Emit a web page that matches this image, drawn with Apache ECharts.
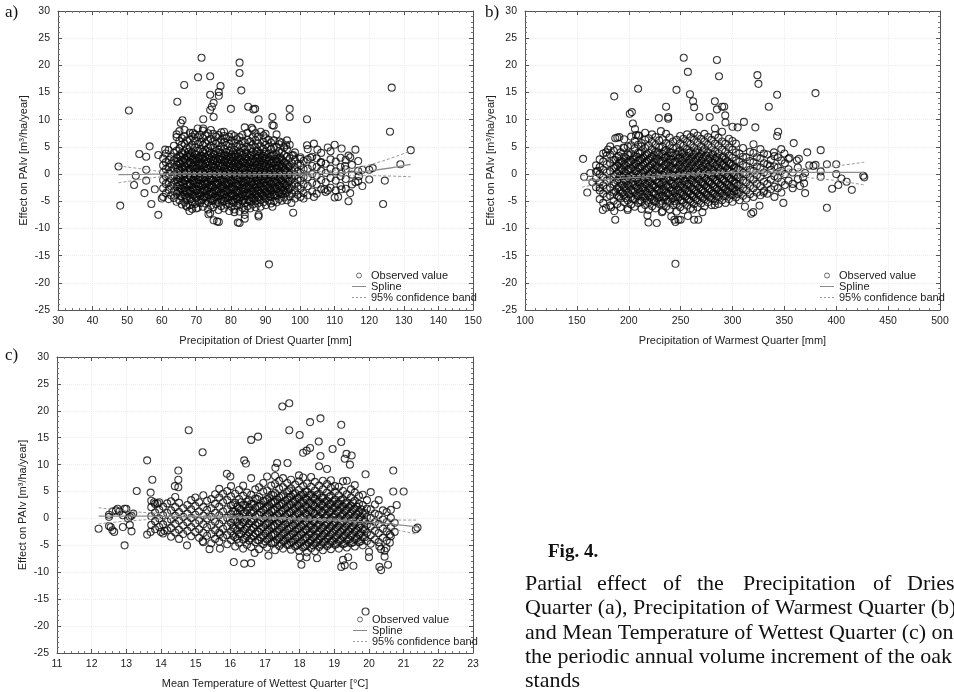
<!DOCTYPE html>
<html>
<head>
<meta charset="utf-8">
<script src="https://cdn.jsdelivr.net/npm/echarts@6/dist/echarts.min.js"></script>
<style>
  html, body { margin: 0; background: #fff; }
  #chart { width: 954px; height: 692px; }
</style>
</head>
<body>
<div id="chart"></div>
<script>
// ---- data: a) Precipitation of Driest Quarter ----
// dense part, one x with its y values
const driestCore = [
  [60.4, [-4.2,-2.6,-1.1,0.3,1.6,2.9]],
  [61.2, [-3.5,-1.8,-0.4,0.9,2.2,3.8]],
  [62.0, [-4.6,-2.9,-1.5,0.1,1.3,2.6,4.4]],
  [62.7, [-3.9,-2.2,-0.8,0.6,1.9,3.2]],
  [63.5, [-4.4,-3.1,-1.6,-0.2,1.1,2.5,3.9,5.2]],
  [64.3, [-5.1,-3.6,-2.3,-0.9,0.4,1.7,3.0,4.3,6.8,7.3]],
  [65.1, [-4.8,-3.3,-2.0,-0.6,0.7,2.0,3.4,4.7,6.1,7.9]],
  [65.8, [-5.6,-4.1,-2.7,-1.4,-0.1,1.2,2.6,3.9,5.4,6.6]],
  [66.6, [-5.2,-3.8,-2.5,-1.1,0.2,1.5,2.8,4.2,5.6,7.0,8.1]],
  [67.3, [-6.0,-4.5,-3.2,-1.9,-0.6,0.7,2.1,3.4,4.8,6.2]],
  [68.1, [-5.7,-4.3,-3.0,-1.7,-0.4,0.9,2.2,3.5,4.9,6.3,7.6]],
  [68.8, [-6.4,-5.0,-3.7,-2.4,-1.2,0.1,1.4,2.7,4.0,5.4,6.9]],
  [69.6, [-5.5,-4.1,-2.8,-1.6,-0.3,0.9,2.2,3.6,4.9,6.1,7.3]],
  [70.4, [-6.2,-4.8,-3.5,-2.2,-1.0,0.3,1.5,2.8,4.2,5.5,6.8,8.4]],
  [71.1, [-5.3,-4.0,-2.9,-1.7,-0.5,0.8,2.0,3.3,4.6,5.9,7.2]],
  [71.9, [-6.0,-4.6,-3.3,-2.1,-0.8,0.4,1.7,2.9,4.1,5.3,6.6,8.0]],
  [72.6, [-5.4,-4.2,-3.0,-1.8,-0.6,0.6,1.9,3.1,4.4,5.7,7.1]],
  [73.4, [-6.5,-5.1,-3.8,-2.6,-1.4,-0.2,1.0,2.3,3.5,4.8,6.2,7.5]],
  [74.2, [-5.8,-4.5,-3.2,-2.0,-0.9,0.3,1.5,2.7,3.9,5.2,6.5,8.1]],
  [74.9, [-6.1,-4.8,-3.6,-2.4,-1.2,0.0,1.2,2.4,3.6,4.9,6.0,7.4]],
  [75.7, [-5.5,-4.3,-3.1,-1.9,-0.7,0.5,1.7,2.9,4.2,5.6,6.9]],
  [76.4, [-6.6,-5.2,-4.0,-2.8,-1.6,-0.4,0.8,2.0,3.2,4.5,5.8,7.2]],
  [77.2, [-5.9,-4.6,-3.4,-2.2,-1.0,0.2,1.4,2.6,3.8,5.1,6.3,7.7]],
  [78.0, [-6.3,-5.0,-3.8,-2.6,-1.4,-0.2,1.0,2.2,3.4,4.6,5.9,7.0]],
  [78.7, [-5.6,-4.4,-3.2,-2.0,-0.8,0.4,1.6,2.8,4.0,5.3,6.6]],
  [79.5, [-6.8,-5.4,-4.1,-2.9,-1.7,-0.5,0.7,1.9,3.1,4.3,5.6,6.9]],
  [80.2, [-6.0,-4.8,-3.6,-2.4,-1.2,0.0,1.2,2.4,3.6,4.9,6.2,7.3]],
  [81.0, [-6.5,-5.2,-4.0,-2.8,-1.6,-0.4,0.8,2.0,3.2,4.4,5.7,7.0]],
  [81.8, [-5.8,-4.6,-3.4,-2.2,-1.0,0.2,1.4,2.6,3.8,5.0,6.4]],
  [82.5, [-6.9,-5.5,-4.3,-3.1,-1.9,-0.7,0.5,1.7,2.9,4.1,5.4,6.8]],
  [83.3, [-6.2,-4.9,-3.7,-2.5,-1.3,-0.1,1.1,2.3,3.5,4.8,6.1,7.2]],
  [84.0, [-6.6,-5.3,-4.0,-2.8,-1.6,-0.4,0.8,2.0,3.2,4.5,5.8,8.6]],
  [84.8, [-5.9,-4.7,-3.5,-2.3,-1.1,0.1,1.3,2.5,3.7,5.0,6.3,7.6]],
  [85.6, [-6.3,-5.0,-3.8,-2.6,-1.4,-0.2,1.0,2.2,3.4,4.7,6.0]],
  [86.3, [-5.6,-4.4,-3.2,-2.0,-0.8,0.4,1.6,2.8,4.1,5.4,6.8,8.2]],
  [87.1, [-6.1,-4.9,-3.7,-2.5,-1.3,-0.1,1.1,2.3,3.6,4.9,6.2,7.5]],
  [87.8, [-5.4,-4.2,-3.0,-1.8,-0.6,0.6,1.8,3.0,4.3,5.6,6.9]],
  [88.6, [-6.0,-4.7,-3.5,-2.3,-1.1,0.1,1.3,2.5,3.8,5.1,7.8]],
  [89.4, [-5.2,-4.0,-2.8,-1.6,-0.4,0.8,2.0,3.3,4.6,5.9,7.1]],
  [90.1, [-5.7,-4.5,-3.3,-2.1,-0.9,0.3,1.5,2.8,4.1,5.4,6.6]],
  [90.9, [-4.9,-3.7,-2.5,-1.3,-0.1,1.1,2.4,3.7,5.0,6.3]],
  [91.6, [-5.4,-4.2,-3.0,-1.8,-0.6,0.7,2.0,3.3,4.6,5.8]],
  [92.4, [-5.0,-3.8,-2.6,-1.4,-0.2,1.0,2.3,3.6,4.9,6.2,8.9]],
  [93.2, [-5.2,-3.9,-2.7,-1.5,-0.3,1.0,2.3,3.6,5.0,7.3]],
  [93.9, [-4.6,-3.4,-2.2,-1.0,0.2,1.5,2.8,4.2,5.5]],
  [94.7, [-4.9,-3.6,-2.4,-1.1,0.1,1.4,2.7,4.0,5.8]],
  [95.4, [-4.3,-3.0,-1.8,-0.5,0.8,2.1,3.5,4.9]],
  [96.2, [-4.8,-3.4,-2.1,-0.8,0.5,1.8,3.2,4.6,6.2]],
  [97.0, [-4.1,-2.7,-1.3,0.0,1.4,2.9,5.4]],
  [97.7, [-3.6,-2.2,-0.8,0.6,2.0,3.4]],
  [98.5, [-4.5,-3.0,-1.6,-0.2,1.2,2.6,4.0]],
  [99.3, [-3.8,-2.3,-0.9,0.5,1.9]],
  [100.1, [-4.2,-2.7,-1.2,0.2,1.6,3.1]],
  [101.0, [-3.5,-1.9,-0.5,0.9,2.4]],
  [102.2, [-3.9,-2.2,-0.6,1.0,2.7,4.6]],
  [103.5, [-3.2,-1.6,0.0,1.5,3.2]],
  [104.8, [-3.6,-1.9,-0.3,1.3,2.9]],
  [106.1, [-2.8,-1.1,0.6,2.2,3.9]],
  [107.4, [-3.3,-1.5,0.2,1.9]],
  [108.8, [-2.5,-0.7,1.0,2.7,4.2]],
  [110.3, [-3.0,-1.2,0.5,2.3]],
  [111.7, [-2.2,-0.4,1.3,3.0]],
  [113.2, [-2.7,-0.9,0.9,2.6]],
  [115.0, [-1.9,-0.1,1.7]],
  [116.8, [-1.3,0.6,2.4]]
];
// the darkest middle of the cloud
const driestDense = [
  [64.7, [-3.1,-1.5,-0.2,1.0,2.4]],
  [65.45, [-4.0,-2.6,-0.9,0.3,1.8,3.1]],
  [66.2, [-3.3,-1.8,-0.4,0.8,2.2,3.6]],
  [66.95, [-4.3,-2.9,-1.2,0.1,1.4,2.7]],
  [67.7, [-3.6,-2.1,-0.8,0.6,1.9,3.2,4.1]],
  [68.45, [-4.6,-3.2,-1.9,-0.6,0.8,2.0,3.3]],
  [69.2, [-3.9,-2.5,-1.1,0.3,1.6,2.9]],
  [70.0, [-4.4,-3.0,-1.7,-0.2,1.1,2.4,3.6]],
  [70.75, [-3.7,-2.3,-1.0,0.4,1.8,3.0]],
  [71.5, [-4.8,-3.4,-2.0,-0.6,0.7,2.1,3.4]],
  [72.25, [-4.1,-2.7,-1.3,0.1,1.3,2.6,3.8]],
  [73.0, [-4.5,-3.1,-1.8,-0.5,0.9,2.2]],
  [73.8, [-3.8,-2.4,-1.0,0.4,1.7,3.0,4.2]],
  [74.55, [-4.9,-3.5,-2.1,-0.7,0.6,1.9,3.2]],
  [75.3, [-4.2,-2.8,-1.5,-0.1,1.3,2.6,3.7]],
  [76.05, [-4.7,-3.3,-1.9,-0.5,0.9,2.3]],
  [76.8, [-3.9,-2.5,-1.2,0.2,1.6,2.8,4.0]],
  [77.6, [-5.0,-3.6,-2.2,-0.8,0.5,1.8,3.1]],
  [78.35, [-4.3,-2.9,-1.6,-0.2,1.2,2.5,3.6]],
  [79.1, [-4.8,-3.4,-2.0,-0.6,0.8,2.1,3.3]],
  [79.85, [-4.0,-2.7,-1.3,0.1,1.4,2.7]],
  [80.6, [-5.1,-3.7,-2.3,-0.9,0.4,1.7,3.0,4.1]],
  [81.4, [-4.4,-3.0,-1.7,-0.3,1.1,2.4,3.5]],
  [82.15, [-4.9,-3.5,-2.1,-0.7,0.6,1.9,3.2]],
  [82.9, [-4.2,-2.8,-1.4,0.0,1.3,2.6,3.9]],
  [83.65, [-4.7,-3.3,-2.0,-0.6,0.8,2.1]],
  [84.4, [-4.0,-2.6,-1.2,0.2,1.5,2.8,4.0]],
  [85.2, [-4.9,-3.5,-2.1,-0.8,0.6,1.9,3.1]],
  [85.95, [-4.3,-2.9,-1.5,-0.1,1.2,2.5,3.6]],
  [86.7, [-4.6,-3.2,-1.8,-0.4,0.9,2.2]],
  [87.45, [-3.9,-2.5,-1.1,0.3,1.6,2.9,4.1]],
  [88.2, [-4.5,-3.1,-1.7,-0.3,1.0,2.3,3.4]],
  [89.0, [-3.8,-2.4,-1.0,0.4,1.7,3.0]],
  [89.75, [-4.3,-2.9,-1.5,-0.1,1.2,2.5,3.7]],
  [90.5, [-3.6,-2.2,-0.8,0.6,1.9,3.1]],
  [91.25, [-4.1,-2.7,-1.3,0.1,1.4,2.7]],
  [92.0, [-3.4,-2.0,-0.6,0.8,2.1,3.4]],
  [92.8, [-3.9,-2.5,-1.1,0.3,1.6,2.8]],
  [93.55, [-3.2,-1.8,-0.4,1.0,2.3]],
  [94.3, [-3.7,-2.3,-0.9,0.5,1.8,3.1]],
  [95.05, [-3.0,-1.6,-0.2,1.2,2.5]],
  [95.8, [-3.5,-2.1,-0.7,0.7,2.0]],
  [96.6, [-2.8,-1.4,0.0,1.4]]
];
const driestOutliers = [
  [47.5,1.4],[48,-5.8],[50.5,11.7],[53.5,3.7],[55.5,3.2],[56.5,5.1],[59,-7.5],[52,-2],[52.5,-0.3],
  [55,-3.5],[57,-5.5],[60,-4.5],[59,3.5],[61,4.5],[55.5,0.8],[55.5,-1.2],[58,-2.8],
  [71.5,21.4],[82.5,20.5],[82.5,18.6],[70.5,17.8],[74,18],[66.5,16.4],[76.5,15.1],[77,16.2],
  [76.5,14.4],[74,14.6],[83,15.4],[64.5,13.3],[74.5,12.4],[75,13.1],[74,11.8],[80,12],[85,12.4],
  [87,12],[86.5,11.9],[97,12],[97,10.5],[92,10.5],[75,10.5],[72,10.1],[66,9.9],[65.5,9.4],
  [102,10.1],[88,10.1],[92,9],[126.5,15.9],[126,7.8],[132,4.4],[129,1.8],[124.5,-1.2],[124,-5.5],
  [120,-1],[120,0.8],[121,1.1],[91,-16.6],[76.5,-8.8],[76,-8.7],[75,-8.5],[82,-8.9],[82.5,-9],
  [84,-8.2],[84,-7.5],[88,-7.5],[88,-7.8],[98,-7.1],[73.5,-7.4],[74,-7.2],[81,-7],[92,-6],
  [68,-6.8],[70,-6.3],[67,-5.8],[97.5,-5.3],[101,-4.5],[114,-5],[110,-4.3],[111,-4.2],
  [114.5,-3.5],[104,-4.2],[108,-3],[107,-2.8],[112,-2.8],[118,-2.2],[116,-1.5],[112,0.3],
  [113,1.5],[114,3.4],[114.5,3.1],[116,4.5],[108,4.9],[110,5.4],[112,4.7],[104,5.6],[102,5.3],
  [105,4.5],[106,2.1],[98,3.5],[100,2.8],[103,3],[94,6],[96,5.3],[90,7.4],[86,8.5],[78,7.8],
  [72,8.4],[69,7.6],[118,0.8],[117,-0.4]
];
const driestSplineX = [47.5, 55, 60, 70, 80, 90, 100, 110, 120, 132];
const driestSpline  = [-0.1, -0.05, 0, 0.05, 0, -0.05, 0, 0.2, 0.6, 1.8];
const driestUpper   = [1.5, 0.9, 0.5, 0.3, 0.25, 0.25, 0.35, 0.7, 1.7, 4.3];
const driestLower   = [-1.6, -0.9, -0.5, -0.25, -0.3, -0.35, -0.35, -0.3, -0.3, -0.5];

// ---- data: b) Precipitation of Warmest Quarter ----
const warmestCore = [
  [168.5, [-2.4,-0.8,0.4,1.6]],
  [172.0, [-4.6,-3.0,-1.5,0.0,1.3,2.7]],
  [175.4, [-5.3,-3.6,-2.1,-0.6,0.8,2.3,3.8]],
  [178.8, [-4.2,-2.7,-1.2,0.3,1.8,3.4]],
  [182.1, [-5.8,-4.0,-2.5,-1.0,0.5,2.0,3.6,5.1]],
  [185.5, [-4.9,-3.4,-1.9,-0.4,1.1,2.6,4.3]],
  [188.9, [-5.5,-4.0,-2.6,-1.2,0.2,1.6,3.1,4.6]],
  [192.2, [-6.1,-4.5,-3.1,-1.7,-0.3,1.1,2.5,4.0]],
  [195.6, [-5.2,-3.8,-2.4,-1.0,0.4,1.8,3.2,4.8,6.4]],
  [199.0, [-6.3,-4.8,-3.4,-2.0,-0.6,0.8,2.2,3.6,5.1]],
  [202.3, [-5.6,-4.2,-2.9,-1.6,-0.3,1.0,2.4,3.8,5.3,6.9]],
  [205.7, [-6.0,-4.6,-3.3,-2.0,-0.7,0.6,1.9,3.3,4.7,6.1]],
  [209.1, [-5.3,-4.0,-2.7,-1.4,-0.1,1.2,2.5,3.9,5.4,7.1]],
  [212.4, [-6.4,-5.0,-3.7,-2.4,-1.1,0.2,1.5,2.8,4.2,5.7]],
  [215.8, [-5.7,-4.4,-3.1,-1.8,-0.5,0.8,2.1,3.4,4.8,6.3,7.6]],
  [219.2, [-6.6,-5.2,-3.9,-2.6,-1.3,0.0,1.3,2.6,3.9,5.2,6.6]],
  [222.5, [-5.9,-4.6,-3.3,-2.0,-0.7,0.6,1.9,3.2,4.5,5.9,7.3]],
  [225.9, [-6.3,-5.0,-3.7,-2.4,-1.1,0.2,1.5,2.8,4.1,5.4,6.8]],
  [229.3, [-5.5,-4.2,-2.9,-1.6,-0.3,1.0,2.3,3.6,4.9,6.2]],
  [232.6, [-6.8,-5.4,-4.1,-2.8,-1.5,-0.2,1.1,2.4,3.7,5.0,6.4]],
  [236.0, [-6.0,-4.7,-3.4,-2.1,-0.8,0.5,1.8,3.1,4.4,5.7,7.4]],
  [239.4, [-6.5,-5.1,-3.8,-2.5,-1.2,0.1,1.4,2.7,4.0,5.3,6.7]],
  [242.7, [-5.7,-4.4,-3.1,-1.8,-0.5,0.8,2.1,3.4,4.7,6.0]],
  [246.1, [-6.9,-5.5,-4.2,-2.9,-1.6,-0.3,1.0,2.3,3.6,4.9,6.3]],
  [249.5, [-6.1,-4.8,-3.5,-2.2,-0.9,0.4,1.7,3.0,4.3,5.6,7.0]],
  [252.8, [-6.6,-5.2,-3.9,-2.6,-1.3,0.0,1.3,2.6,3.9,5.2,6.5]],
  [256.2, [-5.8,-4.5,-3.2,-1.9,-0.6,0.7,2.0,3.3,4.6,5.9,7.3]],
  [259.6, [-6.3,-5.0,-3.7,-2.4,-1.1,0.2,1.5,2.8,4.1,5.5,6.8]],
  [262.9, [-5.5,-4.2,-2.9,-1.6,-0.3,1.0,2.3,3.6,4.9,6.3,7.6]],
  [266.3, [-6.1,-4.8,-3.5,-2.2,-0.9,0.4,1.7,3.0,4.4,5.8,7.1]],
  [269.7, [-5.4,-4.1,-2.8,-1.5,-0.2,1.1,2.4,3.7,5.1,6.5]],
  [273.0, [-5.9,-4.6,-3.3,-2.0,-0.7,0.6,1.9,3.2,4.6,6.0,7.4]],
  [276.4, [-5.2,-3.9,-2.6,-1.3,0.0,1.3,2.6,4.0,5.4,6.8]],
  [279.8, [-5.7,-4.4,-3.1,-1.8,-0.5,0.8,2.1,3.5,4.9,6.3]],
  [283.1, [-5.0,-3.7,-2.4,-1.1,0.2,1.5,2.8,4.2,5.6,7.2,8.4]],
  [286.5, [-5.5,-4.2,-2.9,-1.6,-0.3,1.0,2.4,3.8,5.2,6.7]],
  [289.9, [-4.8,-3.5,-2.2,-0.9,0.4,1.7,3.1,4.5,6.0,7.8]],
  [293.2, [-5.3,-4.0,-2.7,-1.4,-0.1,1.3,2.7,4.1,5.6,9.5]],
  [296.6, [-4.6,-3.3,-2.0,-0.7,0.6,2.0,3.4,4.9,6.5]],
  [300.0, [-5.1,-3.8,-2.5,-1.2,0.2,1.6,3.0,4.5,6.1]],
  [303.3, [-4.3,-3.0,-1.7,-0.3,1.1,2.5,4.0,5.6]],
  [306.7, [-4.8,-3.4,-2.0,-0.6,0.8,2.3,3.8]],
  [310.1, [-4.0,-2.6,-1.2,0.2,1.7,3.2,4.8]],
  [313.4, [-4.5,-3.0,-1.5,0.0,1.5,3.1]],
  [316.8, [-3.7,-2.2,-0.7,0.8,2.4,4.1]],
  [320.2, [-4.2,-2.6,-1.0,0.6,2.2,3.9,5.5]],
  [323.5, [-3.4,-1.8,-0.2,1.4,3.1]],
  [326.9, [-3.9,-2.2,-0.5,1.2,2.9,4.6]],
  [330.3, [-3.1,-1.4,0.3,2.0,3.8]],
  [333.6, [-3.6,-1.8,0.0,1.8,3.6]],
  [337.0, [-2.8,-1.0,0.8,2.6]],
  [340.4, [-4.2,-2.3,-0.4,1.4,3.3]],
  [343.7, [-2.6,-0.7,1.2,3.1]],
  [347.1, [-3.4,-1.4,0.6,2.5]],
  [350.5, [-2.0,0.0,2.0]],
  [354.0, [-1.2,0.9,2.8]],
  [358.0, [-1.8,0.3]],
  [363.0, [-0.9,1.2]]
];
const warmestDense = [
  [187.2, [-3.2,-1.6,-0.2,1.2,2.6]],
  [190.5, [-4.1,-2.4,-0.9,0.6,2.0,3.3]],
  [193.9, [-3.5,-2.0,-0.5,0.9,2.3]],
  [197.3, [-4.4,-2.9,-1.4,0.1,1.5,2.9]],
  [200.6, [-3.7,-2.2,-0.8,0.7,2.1,3.5]],
  [204.0, [-4.6,-3.1,-1.6,-0.2,1.3,2.7]],
  [207.4, [-3.9,-2.4,-1.0,0.5,1.9,3.2]],
  [210.7, [-4.8,-3.3,-1.8,-0.4,1.1,2.5,3.8]],
  [214.1, [-4.1,-2.6,-1.2,0.3,1.7,3.0]],
  [217.5, [-4.9,-3.5,-2.0,-0.6,0.9,2.3,3.6]],
  [220.8, [-4.3,-2.8,-1.4,0.1,1.5,2.9]],
  [224.2, [-5.0,-3.6,-2.1,-0.7,0.8,2.2,3.5]],
  [227.6, [-4.4,-2.9,-1.5,0.0,1.4,2.8,4.0]],
  [230.9, [-4.9,-3.4,-2.0,-0.5,0.9,2.3]],
  [234.3, [-4.2,-2.8,-1.3,0.2,1.6,3.0,4.2]],
  [237.7, [-5.1,-3.6,-2.2,-0.7,0.7,2.1,3.4]],
  [241.0, [-4.5,-3.0,-1.6,-0.1,1.3,2.7,3.9]],
  [244.4, [-5.0,-3.5,-2.1,-0.6,0.8,2.2]],
  [247.8, [-4.3,-2.9,-1.4,0.1,1.5,2.9,4.1]],
  [251.1, [-4.8,-3.4,-1.9,-0.4,1.0,2.4,3.7]],
  [254.5, [-4.1,-2.7,-1.2,0.3,1.7,3.1]],
  [257.9, [-4.7,-3.2,-1.8,-0.3,1.1,2.5,3.9]],
  [261.2, [-4.0,-2.6,-1.1,0.4,1.8,3.2]],
  [264.6, [-4.6,-3.1,-1.7,-0.2,1.2,2.6,4.0]],
  [268.0, [-3.9,-2.5,-1.0,0.5,1.9,3.3]],
  [271.3, [-4.4,-3.0,-1.5,0.0,1.4,2.8,4.2]],
  [274.7, [-3.8,-2.3,-0.9,0.6,2.0,3.4]],
  [278.1, [-4.3,-2.8,-1.4,0.1,1.5,2.9]],
  [281.4, [-3.6,-2.2,-0.7,0.7,2.1,3.6]],
  [284.8, [-4.1,-2.7,-1.2,0.2,1.7,3.1]],
  [288.2, [-3.5,-2.0,-0.6,0.9,2.3]],
  [291.5, [-4.0,-2.5,-1.1,0.4,1.8,3.2]],
  [294.9, [-3.3,-1.9,-0.4,1.0,2.4]],
  [298.3, [-3.8,-2.4,-0.9,0.5,2.0]],
  [301.6, [-3.2,-1.7,-0.3,1.2]],
  [305.0, [-3.6,-2.1,-0.6,0.9]]
];
const warmestOutliers = [
  [156,2.8],[157,-0.5],[160,-3.4],[170,0.6],[172,-2.5],[175,-6.6],[178,-6.2],[180,4.5],[178,4],
  [183,-6.1],[186,-6.8],[187,-8.4],[186,14.3],[187,6.6],[189,6.7],[191,6.8],[195,4.9],[199,-6.6],
  [201,11.1],[203,11.4],[204,9.3],[206,8.3],[207,7.2],[209,15.7],[210,7.1],[212,5.1],[218,-7.6],
  [219,-8.9],[227,-9],[236,12.4],[238,10.5],[238,10.2],[229,10.3],[231,7.9],[246,15.5],[253,21.4],
  [257,18.8],[259,14.7],[262,13.4],[263,12.3],[285,21],[287,18],[283,13.4],[285,11.9],[290,12.4],
  [292,12.4],[293,10.8],[278,10.5],[268,10.5],[300,8.7],[305,8.6],[311,9.6],[324,18.2],[325,16.6],
  [343,14.6],[335,12.4],[322,8.6],[347,4.6],[344,7.8],[343,7],[359,5.7],[372,4.0],[385,4.4],
  [380,14.9],[245,-16.5],[244,-8.4],[245,-8.8],[248,-8.4],[250,-8.4],[257,-7.7],[263,-8.4],
  [267,-8.4],[271,-7],[262,-6.5],[283,-5.7],[232,-7],[241,-7.8],[312,-6],[318,-7.3],[320,-7],
  [326,-5.8],[330,-3.4],[349,-5.3],[358,-2.6],[365,-2.2],[369,-1.7],[370,-3.5],[374,1.6],
  [378,1.5],[380,1.7],[385,0.5],[385,-0.5],[391,1.8],[400,1.8],[391,-6.2],[396,-2.7],[400,0],
  [402,-2],[405,-0.8],[410,-1.4],[415,-2.9],[426,-0.3],[427,-0.6],[362,2.5],[364,2.8],[350,3.8],
  [355,3],[340,4],[336,1.5],[370,0.2],[368,-0.6],[165,-1.5],[163,0.2]
];
const warmestSplineX = [155, 175, 200, 225, 250, 275, 300, 325, 350, 375, 400, 427];
const warmestSpline  = [-1.2, -1.0, -0.7, -0.4, -0.1, 0.15, 0.3, 0.35, 0.35, 0.3, 0.3, 0.3];
const warmestUpper   = [-0.2, -0.3, -0.3, -0.1, 0.15, 0.4, 0.6, 0.7, 0.9, 1.1, 1.5, 2.2];
const warmestLower   = [-2.4, -1.7, -1.1, -0.7, -0.35, -0.1, 0.0, -0.05, -0.3, -0.7, -1.2, -2.0];

// ---- data: c) Mean Temperature of Wettest Quarter ----
const wettestCore = [
  [13.72, [-1.2,0.4,2.1,3.3]],
  [13.83, [-2.0,-0.5,1.1,2.7]],
  [13.95, [-1.6,0.0,1.6,3.0]],
  [14.06, [-2.8,-1.1,0.6,2.2]],
  [14.18, [-2.2,-0.6,1.0,2.8]],
  [14.29, [-3.4,-1.8,-0.2,1.5,3.2]],
  [14.41, [-2.6,-1.0,0.5,2.1,4.0]],
  [14.52, [-3.8,-2.1,-0.4,1.2,2.9]],
  [14.64, [-2.9,-1.3,0.3,1.9]],
  [14.76, [-2.3,-0.7,0.9,2.5]],
  [14.87, [-3.3,-1.6,0.1,1.7,3.4]],
  [14.99, [-2.5,-0.9,0.7,2.3,3.9]],
  [15.10, [-3.6,-2.0,-0.4,1.3,3.0]],
  [15.22, [-4.4,-2.7,-1.1,0.5,2.1,4.3]],
  [15.33, [-3.2,-1.6,0.0,1.6,3.3]],
  [15.45, [-4.6,-2.9,-1.3,0.3,1.9,3.6]],
  [15.56, [-3.8,-2.2,-0.6,1.0,2.7,4.5]],
  [15.68, [-4.3,-2.6,-1.0,0.6,2.2,3.9,5.5]],
  [15.79, [-3.5,-1.9,-0.3,1.3,3.0,4.6]],
  [15.91, [-4.8,-3.1,-1.5,0.1,1.7,3.4,5.1]],
  [16.02, [-4.0,-2.4,-0.8,0.8,2.4,4.1,6.0]],
  [16.14, [-5.2,-3.5,-1.9,-0.3,1.3,2.9,4.6]],
  [16.25, [-4.5,-2.9,-1.3,0.3,1.9,3.6,5.3]],
  [16.37, [-5.6,-3.9,-2.3,-0.7,0.9,2.5,4.2,6.1]],
  [16.48, [-4.9,-3.3,-1.7,-0.1,1.5,3.1,4.8]],
  [16.60, [-5.3,-3.7,-2.1,-0.5,1.1,2.7,4.4,7.5]],
  [16.72, [-4.4,-2.8,-1.2,0.4,2.0,3.7,5.4]],
  [16.83, [-5.7,-4.1,-2.5,-0.9,0.7,2.3,4.0,5.8]],
  [16.95, [-4.8,-3.2,-1.6,0.0,1.6,3.3,5.0,6.6]],
  [17.06, [-5.4,-3.9,-2.4,-0.9,0.6,2.1,3.6,5.2,7.8]],
  [17.18, [-4.6,-3.1,-1.6,-0.1,1.4,2.9,4.4,6.1]],
  [17.29, [-5.9,-4.4,-2.9,-1.4,0.1,1.6,3.1,4.7,6.4,7.9]],
  [17.41, [-5.1,-3.6,-2.1,-0.6,0.9,2.4,3.9,5.5,7.0]],
  [17.52, [-5.6,-4.2,-2.8,-1.4,0.0,1.4,2.8,4.3,5.8,7.5]],
  [17.64, [-4.9,-3.5,-2.1,-0.7,0.7,2.1,3.5,5.0,6.6]],
  [17.75, [-5.8,-4.4,-3.0,-1.6,-0.2,1.2,2.6,4.1,5.6,7.2]],
  [17.87, [-5.2,-3.8,-2.4,-1.0,0.4,1.8,3.2,4.7,6.3]],
  [17.98, [-6.0,-4.6,-3.2,-1.8,-0.4,1.0,2.4,3.8,5.3,6.9,8.0]],
  [18.10, [-5.4,-4.0,-2.6,-1.2,0.2,1.6,3.0,4.5,6.0,7.6]],
  [18.21, [-6.3,-4.9,-3.5,-2.1,-0.7,0.7,2.1,3.5,5.0,6.5]],
  [18.33, [-5.5,-4.1,-2.7,-1.3,0.1,1.5,2.9,4.4,5.9,7.7]],
  [18.44, [-6.1,-4.7,-3.3,-1.9,-0.5,0.9,2.3,3.7,5.2,6.8]],
  [18.56, [-5.3,-3.9,-2.5,-1.1,0.3,1.7,3.1,4.6,6.1,9.7]],
  [18.67, [-5.9,-4.5,-3.1,-1.7,-0.3,1.1,2.5,3.9,5.4,7.0]],
  [18.79, [-5.1,-3.7,-2.3,-0.9,0.5,1.9,3.3,4.8,6.4,9.2]],
  [18.90, [-5.7,-4.3,-2.9,-1.5,-0.1,1.3,2.7,4.2,5.7,7.1]],
  [19.02, [-4.9,-3.5,-2.1,-0.7,0.7,2.1,3.5,5.0,6.0]],
  [19.13, [-5.6,-4.2,-2.8,-1.4,0.0,1.4,2.8,4.3,5.9]],
  [19.25, [-4.8,-3.4,-2.0,-0.6,0.8,2.2,3.6,5.1,6.9]],
  [19.36, [-5.4,-4.0,-2.6,-1.2,0.2,1.6,3.0,4.5,7.0]],
  [19.48, [-4.6,-3.2,-1.8,-0.4,1.0,2.4,3.9,5.4]],
  [19.59, [-5.2,-3.8,-2.4,-1.0,0.4,1.8,3.3,4.8,6.2]],
  [19.71, [-4.4,-3.0,-1.6,-0.2,1.2,2.7,4.2]],
  [19.82, [-5.0,-3.5,-2.0,-0.5,1.0,2.5,4.4]],
  [19.94, [-4.2,-2.7,-1.2,0.3,1.8,3.4]],
  [20.05, [-4.7,-3.1,-1.5,0.1,1.7,4.9]],
  [20.17, [-3.9,-2.3,-0.7,0.9,2.6]],
  [20.28, [-4.4,-2.7,-1.0,0.7,3.4]],
  [20.40, [-3.6,-1.9,-0.2,1.5]],
  [20.51, [-4.1,-2.4,-0.7,1.2]],
  [20.63, [-3.3,-1.6,0.1,1.6]],
  [20.74, [-2.5,-0.8]]
];
const wettestDense = [
  [16.08, [-3.2,-1.7,-0.2,1.3,2.6]],
  [16.20, [-3.8,-2.2,-0.6,0.9,2.2]],
  [16.31, [-2.9,-1.4,0.1,1.6,3.0]],
  [16.43, [-3.6,-2.0,-0.4,1.1,2.5]],
  [16.54, [-4.1,-2.6,-1.0,0.5,2.0,3.4]],
  [16.66, [-3.3,-1.8,-0.3,1.2,2.7]],
  [16.78, [-4.0,-2.4,-0.8,0.7,2.2,3.6]],
  [16.89, [-3.5,-1.9,-0.4,1.1,2.5]],
  [17.01, [-4.3,-2.8,-1.2,0.3,1.8,3.2]],
  [17.12, [-3.7,-2.2,-0.7,0.8,2.3,3.8]],
  [17.24, [-4.5,-3.0,-1.4,0.1,1.6,3.0,4.3]],
  [17.35, [-3.9,-2.4,-0.9,0.6,2.1,3.5]],
  [17.47, [-4.7,-3.2,-1.7,-0.2,1.3,2.7,4.1]],
  [17.58, [-4.1,-2.6,-1.1,0.4,1.9,3.3]],
  [17.70, [-4.9,-3.4,-1.9,-0.4,1.1,2.5,3.9,5.2]],
  [17.81, [-4.3,-2.8,-1.3,0.2,1.7,3.1,4.5]],
  [17.93, [-5.0,-3.5,-2.0,-0.5,1.0,2.4,3.8]],
  [18.04, [-4.4,-2.9,-1.4,0.1,1.6,3.0,4.4]],
  [18.16, [-5.1,-3.6,-2.1,-0.6,0.9,2.3,3.7,5.0]],
  [18.27, [-4.5,-3.0,-1.5,0.0,1.5,2.9,4.3]],
  [18.39, [-5.0,-3.5,-2.0,-0.5,1.0,2.4,3.8]],
  [18.50, [-4.4,-2.9,-1.4,0.1,1.6,3.0,4.4]],
  [18.62, [-4.9,-3.4,-1.9,-0.4,1.1,2.5,3.9]],
  [18.73, [-4.3,-2.8,-1.3,0.2,1.7,3.1]],
  [18.85, [-4.8,-3.3,-1.8,-0.3,1.2,2.6,4.0]],
  [18.96, [-4.2,-2.7,-1.2,0.3,1.8,3.2]],
  [19.08, [-4.7,-3.2,-1.7,-0.2,1.3,2.7]],
  [19.19, [-4.0,-2.5,-1.0,0.5,2.0,3.4]],
  [19.31, [-4.6,-3.1,-1.6,-0.1,1.4,2.8]],
  [19.42, [-3.9,-2.4,-0.9,0.6,2.1]],
  [19.54, [-4.4,-2.9,-1.4,0.1,1.6,3.0]],
  [19.65, [-3.7,-2.2,-0.7,0.8,2.2]],
  [19.77, [-4.2,-2.7,-1.2,0.3,1.7]],
  [19.88, [-3.5,-2.0,-0.5,1.0]]
];
const wettestOutliers = [
  [12.2,-1.9],[12.5,0.3],[12.5,0.7],[12.6,1.3],[12.5,-1.4],[12.55,-1.6],[12.6,-2.2],[12.65,-2.5],
  [12.7,1.5],[12.75,1.8],[12.8,1.3],[12.9,0.6],[12.95,1.8],[13.0,1.8],[12.9,-1.6],[12.95,-5],
  [13.05,0],[13.1,0.3],[13.15,0.5],[13.2,0.9],[13.1,-1.2],[13.15,-2.4],[13.3,5.1],[13.6,10.8],
  [13.6,-3],[13.7,4.8],[13.75,7.2],[13.7,-2.5],[14.5,8.9],[14.5,7.2],[14.5,5.8],[14.4,6],
  [14.8,16.4],[15.2,12.3],[14.75,-5],[15.2,-4.2],[15.4,-5.7],[15.7,-5.6],[16.1,-8.1],[16.4,-8.4],
  [16.6,-8.3],[16.6,14.6],[16.8,15.2],[16.4,10.8],[16.45,10.2],[15.9,8.3],[16.0,7.8],[17.5,20.8],
  [17.7,21.4],[17.7,16.4],[18.0,15.5],[18.3,17.9],[18.6,18.6],[18.55,14.3],[18.6,11.6],[19.2,17.4],
  [19.2,14.2],[18.3,13.1],[18.2,12.6],[18.1,12.2],[18.95,12.9],[19.35,12],[19.5,11.7],[19.3,11.1],
  [19.45,10],[17.35,10.3],[17.65,10.3],[17.3,9.4],[19.9,8.2],[20.7,8.9],[21.0,5],[20.7,5],
  [20.8,2.5],[21.4,-1.7],[21.35,-2],[19.9,-17.3],[18.05,-8.6],[18.0,-7.2],[18.2,-7.2],[18.5,-7.4],
  [19.2,-9],[19.3,-8.7],[19.25,-7.7],[19.55,-8.8],[19.4,-7.2],[20.3,-9],[20.35,-9.6],[20.55,-8.6],
  [20.45,-7.1],[20.45,-6],[20.0,-7.2],[20.0,-6.2],[20.5,-5.5],[20.6,-4.5],[20.6,-3],[20.3,-5.2],
  [20.35,-5.7],[15.7,-2.9],[14.0,-2.5],[14.1,-2.3],[13.8,3.0],[13.9,2.8],[17.1,-6.9],[16.7,-6.4]
];
const wettestSplineX = [12.2, 13, 14, 15, 16, 17, 18, 19, 20, 21, 21.4];
const wettestSpline  = [0.45, 0.45, 0.4, 0.35, 0.25, 0.1, -0.1, -0.3, -0.7, -1.3, -1.6];
const wettestUpper   = [2.0, 1.4, 0.9, 0.6, 0.45, 0.3, 0.1, -0.1, -0.2, -0.3, -0.3];
const wettestLower   = [-1.0, -0.5, -0.1, 0.1, 0.05, -0.1, -0.3, -0.5, -1.2, -2.4, -3.0];

const yTicks = { min: -25, max: 30, interval: 5 };

// 把列数据展开成点
function expand(cols) {
  let pts = [];
  cols.forEach(function (col) {
    col[1].forEach(function (y) { pts.push([col[0], y]); });
  });
  return pts;
}
function pairs(xs, ys) {
  return xs.map(function (x, i) { return [x, ys[i]]; });
}

const font = '"Liberation Sans", Arial, sans-serif';
const panels = [
  { grid: { left: 58, top: 11, width: 415, height: 299 }, x: { min: 30, max: 150, interval: 10 },
    xName: 'Precipitation of Driest Quarter [mm]',
    pts: expand(driestCore).concat(expand(driestDense), driestOutliers),
    sx: driestSplineX, s: driestSpline, up: driestUpper, lo: driestLower, legend: { left: 352, top: 270 } },
  { grid: { left: 525, top: 11, width: 415, height: 299 }, x: { min: 100, max: 500, interval: 50 },
    xName: 'Precipitation of Warmest Quarter [mm]',
    pts: expand(warmestCore).concat(expand(warmestDense), warmestOutliers),
    sx: warmestSplineX, s: warmestSpline, up: warmestUpper, lo: warmestLower, legend: { left: 820, top: 270 } },
  { grid: { left: 57, top: 357, width: 416, height: 296 }, x: { min: 11, max: 23, interval: 1 },
    xName: 'Mean Temperature of Wettest Quarter [°C]',
    pts: expand(wettestCore).concat(expand(wettestDense), wettestOutliers),
    sx: wettestSplineX, s: wettestSpline, up: wettestUpper, lo: wettestLower, legend: { left: 353, top: 614 } }
];

// legend icons: small line / dashed line inside a 14x5 box
const iconBox = 'M0,0h0.01v0.01h-0.01z M13.99,4.99h0.01v0.01h-0.01z ';
const lineIcon = 'path://' + iconBox + 'M0,2h14v1h-14z';
const dashIcon = 'path://' + iconBox + 'M0,2h2v1h-2z M4,2h2v1h-2z M8,2h2v1h-2z M12,2h2v1h-2z';

let grids = [], xAxes = [], yAxes = [], series = [], legends = [];
panels.forEach(function (p, i) {
  grids.push(Object.assign({ show: false }, p.grid));
  const tick = { show: true, inside: true, length: 4, lineStyle: { color: '#555' } };
  const minor = { show: true, splitNumber: 5, length: 2, lineStyle: { color: '#777' } };
  const line = { show: true, onZero: false, lineStyle: { color: '#555', width: 1 } };
  xAxes.push({
    gridIndex: i, type: 'value', min: p.x.min, max: p.x.max, interval: p.x.interval,
    name: p.xName, nameLocation: 'middle', nameGap: 25,
    nameTextStyle: { fontFamily: font, fontSize: 11, color: '#222' },
    axisLine: line, axisTick: tick, minorTick: minor,
    axisLabel: { fontFamily: font, fontSize: 10.5, color: '#222', margin: 6 },
    splitLine: { show: true, lineStyle: { color: '#ececec', type: 'dotted' } }
  });
  xAxes.push({
    gridIndex: i, type: 'value', position: 'top', min: p.x.min, max: p.x.max, interval: p.x.interval,
    axisLine: line, axisTick: tick, minorTick: minor, axisLabel: { show: false }, splitLine: { show: false }
  });
  yAxes.push({
    gridIndex: i, type: 'value', min: yTicks.min, max: yTicks.max, interval: yTicks.interval,
    name: 'Effect on PAIv [m³/ha/year]', nameLocation: 'middle', nameGap: 29, nameRotate: 90,
    nameTextStyle: { fontFamily: font, fontSize: 11, color: '#222' },
    axisLine: line, axisTick: tick, minorTick: minor,
    axisLabel: { fontFamily: font, fontSize: 10.5, color: '#222', margin: 8 },
    splitLine: { show: true, lineStyle: { color: '#ececec', type: 'dotted' } }
  });
  yAxes.push({
    gridIndex: i, type: 'value', position: 'right', min: yTicks.min, max: yTicks.max, interval: yTicks.interval,
    axisLine: line, axisTick: tick, minorTick: minor, axisLabel: { show: false }, splitLine: { show: false }
  });
  const xi = i * 2, yi = i * 2;
  series.push({
    name: 'Observed value', type: 'scatter', xAxisIndex: xi, yAxisIndex: yi,
    data: p.pts, symbol: 'circle', symbolSize: 7,
    itemStyle: { color: 'rgba(255,255,255,0)', borderColor: '#0a0a0a', borderWidth: 1.1 }, z: 2
  });
  series.push({
    name: 'Spline', type: 'line', xAxisIndex: xi, yAxisIndex: yi, smooth: true,
    data: pairs(p.sx, p.s), symbol: 'none', itemStyle: { color: '#8c8c8c' },
    lineStyle: { color: '#8c8c8c', width: 1.2 }, z: 3
  });
  series.push({
    name: '95% confidence band', type: 'line', xAxisIndex: xi, yAxisIndex: yi, smooth: true,
    data: pairs(p.sx, p.up), symbol: 'none', itemStyle: { color: '#9a9a9a' },
    lineStyle: { color: '#9a9a9a', width: 1, type: [3, 2] }, z: 3
  });
  series.push({
    name: '95% confidence band', type: 'line', xAxisIndex: xi, yAxisIndex: yi, smooth: true,
    data: pairs(p.sx, p.lo), symbol: 'none', itemStyle: { color: '#9a9a9a' },
    lineStyle: { color: '#9a9a9a', width: 1, type: [3, 2] }, z: 3
  });
  legends.push({
    left: p.legend.left, top: p.legend.top, orient: 'vertical', itemGap: 0,
    itemWidth: 14, itemHeight: 5, padding: 0, selectedMode: false,
    textStyle: { fontFamily: font, fontSize: 11, color: '#222', lineHeight: 11 },
    data: [
      { name: 'Observed value', icon: 'circle', itemStyle: { color: '#fff', borderColor: '#333', borderWidth: 0.9 } },
      { name: 'Spline', icon: lineIcon, itemStyle: { color: '#8c8c8c', borderWidth: 0 } },
      { name: '95% confidence band', icon: dashIcon, itemStyle: { color: '#9a9a9a', borderWidth: 0 } }
    ]
  });
});

const serif = '"Liberation Serif", "Times New Roman", serif';
let texts = [
  { text: 'a)', x: 5, y: 4, size: 17 },
  { text: 'b)', x: 485, y: 4, size: 17 },
  { text: 'c)', x: 5, y: 347, size: 17 },
  { text: 'Fig. 4.', x: 548, y: 543, size: 19, bold: true },
  { text: 'Partial', x: 525, y: 573, size: 22 },
  { text: 'effect', x: 597, y: 573, size: 22 },
  { text: 'of', x: 663, y: 573, size: 22 },
  { text: 'the', x: 697, y: 573, size: 22 },
  { text: 'Precipitation', x: 743, y: 573, size: 22 },
  { text: 'of', x: 873, y: 573, size: 22 },
  { text: 'Driest', x: 907, y: 573, size: 22 },
  { text: 'Quarter (a), Precipitation of Warmest Quarter (b)', x: 525, y: 597, size: 22 },
  { text: 'and Mean Temperature of Wettest Quarter (c) on', x: 525, y: 622, size: 22 },
  { text: 'the periodic annual volume increment of the oak', x: 525, y: 646, size: 22 },
  { text: 'stands', x: 525, y: 670, size: 22 }
];

let chart = echarts.init(document.getElementById('chart'));
chart.setOption({
  animation: false,
  backgroundColor: '#fff',
  grid: grids,
  xAxis: xAxes,
  yAxis: yAxes,
  legend: legends,
  series: series,
  graphic: texts.map(function (t) {
    return {
      type: 'text', left: t.x, top: t.y, silent: true,
      style: { text: t.text, fill: '#111', font: (t.bold ? 'bold ' : '') + t.size + 'px ' + serif }
    };
  })
});
</script>
</body>
</html>
